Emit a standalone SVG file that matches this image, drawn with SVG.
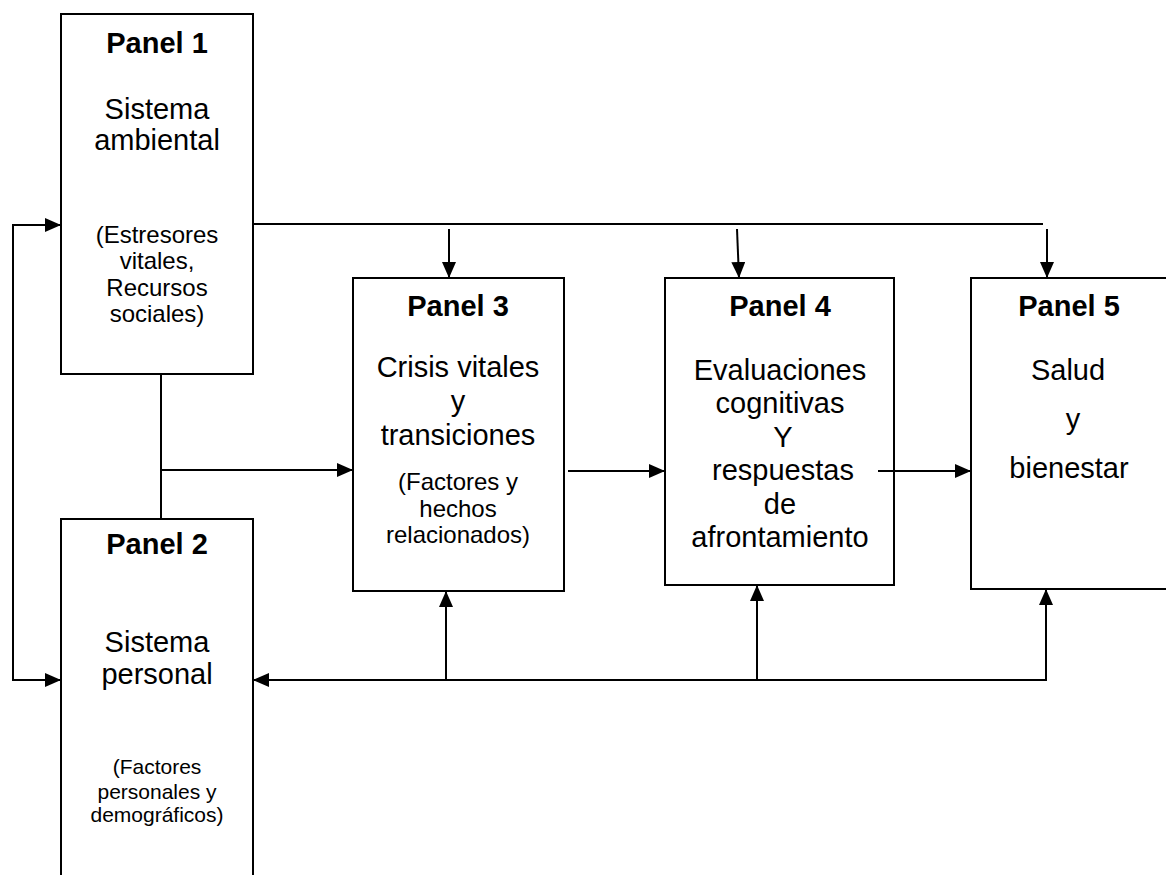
<svg xmlns="http://www.w3.org/2000/svg" width="1166" height="875" viewBox="0 0 1166 875">
<style>
.box{fill:#fff;stroke:#000;stroke-width:2}
.ln{fill:none;stroke:#000;stroke-width:2}
text{font-family:"Liberation Sans",Arial,sans-serif;fill:#000;text-anchor:middle}
.t{font-size:29px;font-weight:bold}
.m{font-size:29px}
.s{font-size:24px}
.s2{font-size:21px}
</style>
<defs>
<marker id="ah" markerUnits="userSpaceOnUse" markerWidth="16" markerHeight="14" viewBox="0 0 16 14" refX="16" refY="7" orient="auto-start-reverse">
<path d="M0,0 L16,7 L0,14 z" fill="#000"/>
</marker>
</defs>
<rect width="1166" height="875" fill="#fff"/>
<g id="panel1">
<rect class="box" x="61" y="14" width="192" height="360"/>
<text class="t" x="157" y="53">Panel 1</text>
<text class="m" x="157" y="119">Sistema</text>
<text class="m" x="157" y="150">ambiental</text>
<text class="s" x="157" y="243">(Estresores</text>
<text class="s" x="157" y="269">vitales,</text>
<text class="s" x="157" y="296">Recursos</text>
<text class="s" x="157" y="322">sociales)</text>
</g>
<g id="panel2">
<rect class="box" x="61" y="519" width="192" height="380"/>
<text class="t" x="157" y="554">Panel 2</text>
<text class="m" x="157" y="652">Sistema</text>
<text class="m" x="157" y="684">personal</text>
<text class="s2" x="157" y="774">(Factores</text>
<text class="s2" x="157" y="799">personales y</text>
<text class="s2" x="157" y="822">demográficos)</text>
</g>
<g id="panel3">
<rect class="box" x="353" y="278" width="211" height="313"/>
<text class="t" x="458" y="316">Panel 3</text>
<text class="m" x="458" y="377">Crisis vitales</text>
<text class="m" x="458" y="411">y</text>
<text class="m" x="458" y="445">transiciones</text>
<text class="s" x="458" y="490">(Factores y</text>
<text class="s" x="458" y="517">hechos</text>
<text class="s" x="458" y="543">relacionados)</text>
</g>
<g id="panel4">
<rect class="box" x="665" y="278" width="229" height="307"/>
<text class="t" x="780" y="316">Panel 4</text>
<text class="m" x="780" y="380">Evaluaciones</text>
<text class="m" x="780" y="413">cognitivas</text>
<text class="m" x="783" y="447">Y</text>
<text class="m" x="783" y="480">respuestas</text>
<text class="m" x="780" y="514">de</text>
<text class="m" x="780" y="547">afrontamiento</text>
</g>
<g id="panel5">
<rect class="box" x="971" y="278" width="220" height="311"/>
<text class="t" x="1069" y="316">Panel 5</text>
<text class="m" x="1068" y="380">Salud</text>
<text class="m" x="1073" y="429">y</text>
<text class="m" x="1069" y="478">bienestar</text>
</g>
<g id="connectors">
<path class="ln" d="M61,225 H13 V680 H61" marker-start="url(#ah)" marker-end="url(#ah)"/>
<path class="ln" d="M253,224 H1043"/>
<path class="ln" d="M449,229 V278" marker-end="url(#ah)"/>
<path class="ln" d="M737,229 L739,278" marker-end="url(#ah)"/>
<path class="ln" d="M1047,229 V278" marker-end="url(#ah)"/>
<path class="ln" d="M161,374 V519"/>
<path class="ln" d="M161,470 H353" marker-end="url(#ah)"/>
<path class="ln" d="M568,471 H665" marker-end="url(#ah)"/>
<path class="ln" d="M878,471 H971" marker-end="url(#ah)"/>
<path class="ln" d="M1047,680 H253" marker-end="url(#ah)"/>
<path class="ln" d="M446,680 V591" marker-end="url(#ah)"/>
<path class="ln" d="M757,680 V585" marker-end="url(#ah)"/>
<path class="ln" d="M1046,680 V589" marker-end="url(#ah)"/>
</g>
</svg>
